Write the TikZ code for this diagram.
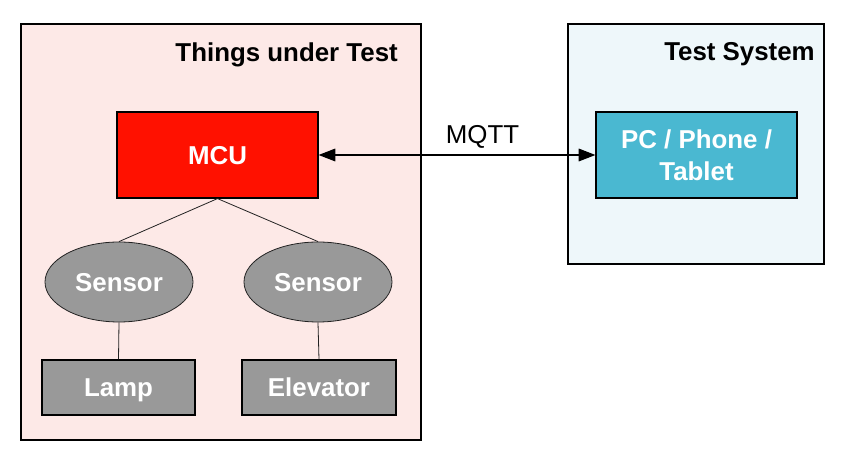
\documentclass[tikz,border=0pt]{standalone}
\usepackage{fontspec}
\setmainfont{Liberation Sans}
\usetikzlibrary{arrows.meta,shapes.geometric}
\definecolor{pinkbg}{HTML}{FDE9E7}
\definecolor{bluebg}{HTML}{EEF7FA}
\definecolor{mcured}{HTML}{FF1100}
\definecolor{pcteal}{HTML}{4AB8D1}
\definecolor{sgray}{HTML}{999999}
\definecolor{linegray}{HTML}{222222}
\tikzset{
  container/.style={draw=black, line width=0.9pt, rectangle},
  txt/.style={font=\fontsize{19.4}{24}\selectfont},
  titletxt/.style={txt, font=\fontsize{19.4}{24}\selectfont\bfseries, inner sep=0pt},
  box/.style={draw=black, line width=0.9pt, rectangle, inner sep=0pt, text=white,
    font=\fontsize{19.4}{24}\selectfont\bfseries, align=center},
  captext/.style={text height=13.9pt, text depth=0pt},
  sensorshape/.style={draw=linegray, line width=0.6pt, ellipse, fill=sgray, inner sep=0pt,
    minimum width=111pt, minimum height=60pt, text=white, font=\fontsize{19.4}{24}\selectfont\bfseries, captext},
  thinline/.style={draw=linegray, line width=0.6pt},
  link/.style={draw=black, line width=0.8pt, {Triangle[length=12.5pt,width=9.5pt]}-{Triangle[length=12.5pt,width=9.5pt]}}
}
\begin{document}
\begin{tikzpicture}[x=0.75pt,y=-0.75pt]
\useasboundingbox (0,0) rectangle (851,473);
\fill[white] (0,0) rectangle (851,473);
% containers
\draw[container, fill=pinkbg] (21,24) rectangle (421,440);
\draw[container, fill=bluebg] (568,24) rectangle (824,264);
\node[titletxt, anchor=base east] (t1) at (398,62) {Things under Test};
\node[titletxt, anchor=base east] (t2) at (815,61) {Test System};
% nodes
\node[box, captext, fill=mcured, minimum width=150.75pt, minimum height=64.5pt] (mcu) at (217.5,155) {MCU};
\node[box, fill=pcteal, minimum width=150.75pt, minimum height=64.5pt] (pc) at (696.5,155) {PC / Phone /\\Tablet};
\node[sensorshape] (s1) at (119,282) {Sensor};
\node[sensorshape] (s2) at (318,282) {Sensor};
\node[box, captext, fill=sgray, minimum width=114.75pt, minimum height=41.25pt] (lamp) at (118.5,387.5) {Lamp};
\node[box, captext, fill=sgray, minimum width=115.5pt, minimum height=41.25pt] (elev) at (319,387.5) {Elevator};
% connectors
\draw[thinline] (mcu.south) -- (s1.north);
\draw[thinline] (mcu.south) -- (s2.north);
\draw[thinline] (s1.south) -- (lamp.north);
\draw[thinline] (s2.south) -- (elev.north);
\draw[link] (mcu.east) -- (pc.west);
\node[txt, anchor=base, inner sep=0pt] (mqtt) at (482.5,144) {MQTT};
\end{tikzpicture}
\end{document}
